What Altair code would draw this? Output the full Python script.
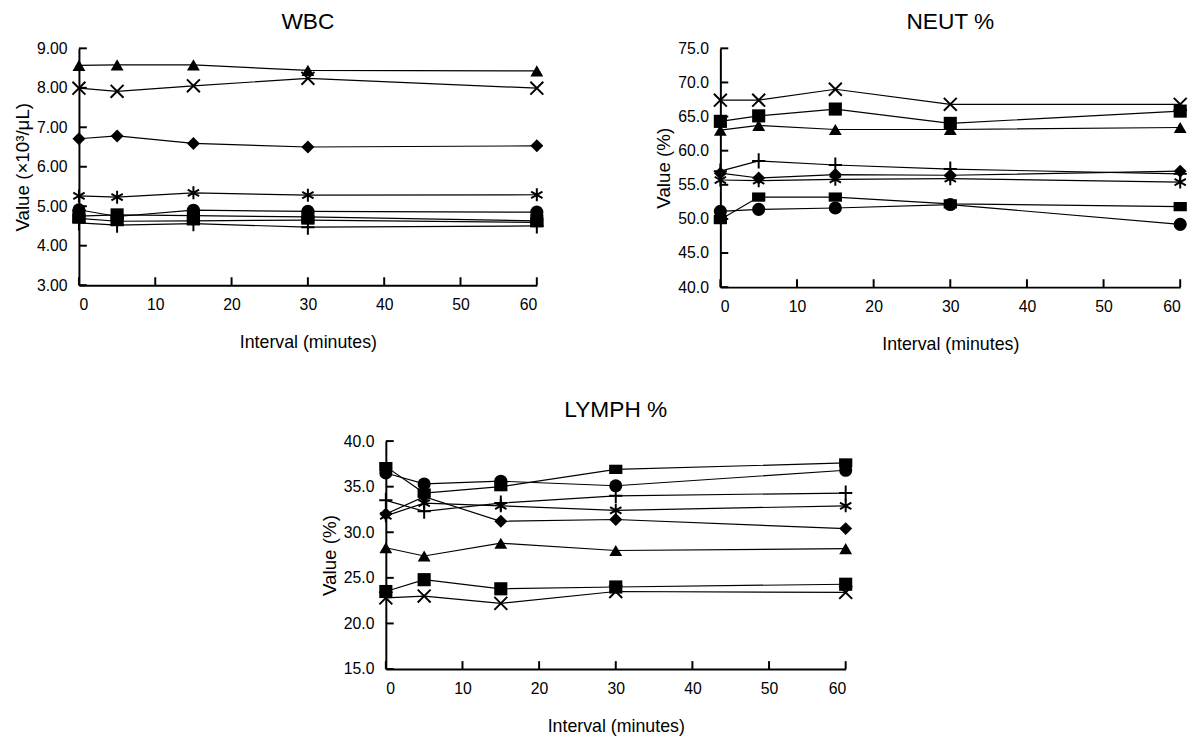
import altair as alt
import pandas as pd

minutes = [0, 5, 15, 30, 60]
series = ["tri", "x", "diamond", "asterisk", "circle", "bigsq", "plus", "smallsq"]

# WBC (x10^3/uL)
wbc_tri = [8.57, 8.58, 8.58, 8.44, 8.43]
wbc_x = [7.99, 7.91, 8.05, 8.24, 7.99]
wbc_diamond = [6.71, 6.78, 6.59, 6.50, 6.53]
wbc_asterisk = [5.26, 5.23, 5.34, 5.28, 5.29]
wbc_circle = [4.91, 4.74, 4.90, 4.87, 4.85]
wbc_bigsq = [4.75, 4.78, 4.76, 4.73, 4.63]
wbc_plus = [4.58, 4.52, 4.56, 4.47, 4.50]
wbc_smallsq = [4.69, 4.62, 4.63, 4.65, 4.59]

# NEUT %
neut_tri = [63.0, 63.7, 63.1, 63.1, 63.4]
neut_x = [67.4, 67.4, 69.0, 66.8, 66.8]
neut_diamond = [56.7, 56.0, 56.5, 56.4, 57.0]
neut_asterisk = [55.7, 55.6, 55.8, 55.9, 55.4]
neut_circle = [51.1, 51.4, 51.6, 52.1, 49.2]
neut_bigsq = [64.3, 65.1, 66.1, 64.0, 65.8]
neut_plus = [57.0, 58.5, 57.9, 57.3, 56.6]
neut_smallsq = [49.9, 53.2, 53.2, 52.2, 51.8]

# LYMPH %
lymph_tri = [28.3, 27.4, 28.8, 28.0, 28.2]
lymph_x = [22.8, 23.0, 22.2, 23.5, 23.4]
lymph_diamond = [32.0, 33.9, 31.2, 31.4, 30.4]
lymph_asterisk = [31.8, 33.2, 32.9, 32.4, 32.9]
lymph_circle = [36.5, 35.3, 35.6, 35.1, 36.8]
lymph_bigsq = [23.5, 24.8, 23.8, 24.0, 24.3]
lymph_plus = [33.5, 32.3, 33.2, 34.0, 34.3]
lymph_smallsq = [37.2, 34.3, 35.0, 36.9, 37.6]

x_ticks = [0, 10, 20, 30, 40, 50, 60]

filled_series = ["tri", "diamond", "circle", "bigsq", "smallsq"]
stroked_series = ["x", "asterisk", "plus"]

shape_range = {
    "tri": "triangle-up",
    "x": "M-1,-1L1,1M-1,1L1,-1",
    "diamond": "diamond",
    "asterisk": "M0,-1L0,1M-0.87,-0.5L0.87,0.5M-0.87,0.5L0.87,-0.5",
    "circle": "circle",
    "bigsq": "square",
    "plus": "M-1,0L1,0M0,-1.15L0,1.15",
    "smallsq": "M-1,-0.7L1,-0.7L1,0.7L-1,0.7Z",
}
size_range = {
    "tri": 170, "x": 180, "diamond": 200, "asterisk": 170,
    "circle": 165, "bigsq": 140, "plus": 240, "smallsq": 64,
}

FONT = "Liberation Sans"


def make_df(vals):
    rows = []
    for s, arr in zip(series, vals):
        for m, v in zip(minutes, arr):
            rows.append({"minutes": m, "v": v, "series": s})
    return pd.DataFrame(rows)


def panel(vals, title, ymin, ymax, ystep, fmt, ytitle, w, h, toff):
    df = make_df(vals)
    n = int(round((ymax - ymin) / ystep))
    y_ticks = [round(ymin + i * ystep, 4) for i in range(n + 1)]

    X = alt.X("minutes:Q",
              scale=alt.Scale(domain=[0, 60], nice=False, zero=False),
              axis=alt.Axis(values=x_ticks, ticks=False, grid=False, format="d",
                            title="Interval (minutes)", domainColor="black",
                            domainWidth=2, labelFontSize=16, labelFont=FONT,
                            labelColor="black", labelPadding=12,
                            titleFont=FONT, titleFontSize=18,
                            titleFontWeight="normal", titleColor="black",
                            titlePadding=21))
    Y = alt.Y("v:Q",
              scale=alt.Scale(domain=[ymin, ymax], nice=False, zero=False),
              axis=alt.Axis(values=y_ticks, ticks=False, grid=False, format=fmt,
                            title=ytitle, domainColor="black", domainWidth=2,
                            labelFontSize=16, labelFont=FONT, labelColor="black",
                            labelPadding=12, titleFont=FONT, titleFontSize=19,
                            titleFontWeight="normal", titleColor="black",
                            titlePadding=4))

    shape = alt.Shape("series:N",
                      scale=alt.Scale(domain=series,
                                      range=[shape_range[s] for s in series]),
                      legend=None)
    size = alt.Size("series:N",
                    scale=alt.Scale(domain=series,
                                    range=[size_range[s] for s in series]),
                    legend=None)

    base = alt.Chart(df)
    lines = base.mark_line(color="black", strokeWidth=1.2).encode(
        x=X, y=Y, detail="series:N")
    pts_f = base.transform_filter(
        alt.FieldOneOfPredicate(field="series", oneOf=filled_series)
    ).mark_point(filled=True, color="black", opacity=1, strokeWidth=0).encode(
        x=X, y=Y, shape=shape, size=size)
    pts_s = base.transform_filter(
        alt.FieldOneOfPredicate(field="series", oneOf=stroked_series)
    ).mark_point(filled=False, color="black", opacity=1, strokeWidth=2).encode(
        x=X, y=Y, shape=shape, size=size)

    ytick_df = pd.DataFrame({"v": y_ticks})
    yt = alt.Chart(ytick_df).mark_rule(color="black", strokeWidth=2).encode(
        y=Y, x=alt.value(0), x2=alt.value(8))
    xtick_df = pd.DataFrame({"minutes": x_ticks})
    xt = alt.Chart(xtick_df).mark_rule(color="black", strokeWidth=2).encode(
        x=X, y=alt.value(h), y2=alt.value(h - 8))

    return alt.layer(lines, pts_f, pts_s, yt, xt).properties(
        width=w, height=h,
        title=alt.TitleParams(title, fontSize=23, font=FONT,
                              fontWeight="normal", color="black", offset=toff,
                              anchor="middle"))


wbc = panel([wbc_tri, wbc_x, wbc_diamond, wbc_asterisk, wbc_circle, wbc_bigsq,
             wbc_plus, wbc_smallsq], "WBC", 3, 9, 1, ".2f",
            "Value (×10³/μL)", 464, 240, 7)
neut = panel([neut_tri, neut_x, neut_diamond, neut_asterisk, neut_circle,
              neut_bigsq, neut_plus, neut_smallsq], "NEUT %", 40, 75, 5, ".1f",
             "Value (%)", 466, 242, 7)
lymph = panel([lymph_tri, lymph_x, lymph_diamond, lymph_asterisk, lymph_circle,
               lymph_bigsq, lymph_plus, lymph_smallsq], "LYMPH %", 15, 40, 5,
              ".1f", "Value (%)", 466, 231, 11)

spacer = alt.Chart(pd.DataFrame({"a": [0]})).mark_point(opacity=0).encode(
    x=alt.X("a:Q", axis=None), y=alt.Y("a:Q", axis=None)
).properties(width=1, height=1)

top = alt.hconcat(wbc, neut, spacing=108)
bottom = alt.hconcat(spacer, lymph, spacing=240)

chart = alt.vconcat(top, bottom, spacing=47).configure_view(
    stroke=None
).properties(background="white",
             padding={"left": 13, "top": 6, "right": 5, "bottom": 5})

chart.save("out.html", embed_options={"renderer": "svg", "actions": False})
